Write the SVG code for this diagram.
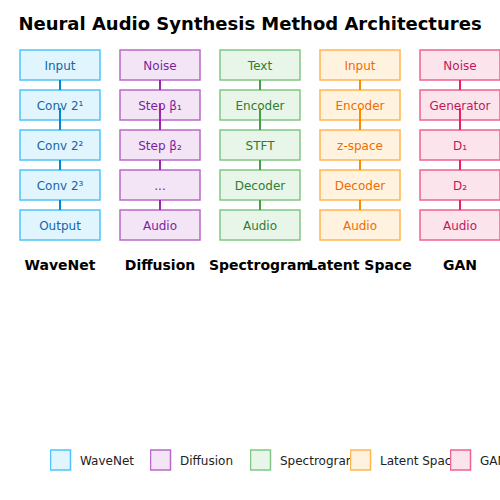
<svg xmlns="http://www.w3.org/2000/svg" width="500" height="500" viewBox="0 0 500 500">
<defs>
<style>
text{font-family:"DejaVu Sans","Liberation Sans",sans-serif}
.title{font-size:18px;font-weight:bold;fill:#000;text-anchor:middle}
.lbl{font-size:14px;font-weight:bold;fill:#000;text-anchor:middle}
.nt{font-size:12px;text-anchor:middle}
rect{stroke-width:1.5}
.wn rect{fill:#e1f5fe;stroke:#4fc3f7}.wn text{fill:#1565a8}
.df rect{fill:#f3e5f5;stroke:#ba68c8}.df text{fill:#7b1fa2}
.sp rect{fill:#e8f5e9;stroke:#81c784}.sp text{fill:#2e7d32}
.lt rect{fill:#fff3e0;stroke:#ffb74d}.lt text{fill:#ef6c00}
.gn rect{fill:#fce4ec;stroke:#f06292}.gn text{fill:#c2185b}
#legend text.lg{font-size:12px;fill:#222}
.c{stroke-width:2}
</style>
<clipPath id="cl0"><rect x="50" y="440" width="100" height="40"/></clipPath>
<clipPath id="cl1"><rect x="150" y="440" width="100" height="40"/></clipPath>
<clipPath id="cl2"><rect x="250" y="440" width="100" height="40"/></clipPath>
<clipPath id="cl3"><rect x="350" y="440" width="100" height="40"/></clipPath>
<clipPath id="cl4"><rect x="450" y="440" width="100" height="40"/></clipPath>
</defs>
<rect width="500" height="500" fill="#fff"/>
<text class="title" x="250" y="30">Neural Audio Synthesis Method Architectures</text>

<g id="wavenet" class="wn">
<g id="wn1"><rect x="20" y="50" width="80" height="30"/><text class="nt" x="60" y="70">Input</text></g>
<g id="wn2"><rect x="20" y="90" width="80" height="30"/><text class="nt" x="60" y="110">Conv 2¹</text></g>
<g id="wn3"><rect x="20" y="130" width="80" height="30"/><text class="nt" x="60" y="150">Conv 2²</text></g>
<g id="wn4"><rect x="20" y="170" width="80" height="30"/><text class="nt" x="60" y="190">Conv 2³</text></g>
<g id="wn5"><rect x="20" y="210" width="80" height="30"/><text class="nt" x="60" y="230">Output</text></g>
</g>
<g id="diffusion" class="df">
<g id="df1"><rect x="120" y="50" width="80" height="30"/><text class="nt" x="160" y="70">Noise</text></g>
<g id="df2"><rect x="120" y="90" width="80" height="30"/><text class="nt" x="160" y="110">Step β₁</text></g>
<g id="df3"><rect x="120" y="130" width="80" height="30"/><text class="nt" x="160" y="150">Step β₂</text></g>
<g id="df4"><rect x="120" y="170" width="80" height="30"/><text class="nt" x="160" y="190">...</text></g>
<g id="df5"><rect x="120" y="210" width="80" height="30"/><text class="nt" x="160" y="230">Audio</text></g>
</g>
<g id="spectrogram" class="sp">
<g id="sp1"><rect x="220" y="50" width="80" height="30"/><text class="nt" x="260" y="70">Text</text></g>
<g id="sp2"><rect x="220" y="90" width="80" height="30"/><text class="nt" x="260" y="110">Encoder</text></g>
<g id="sp3"><rect x="220" y="130" width="80" height="30"/><text class="nt" x="260" y="150">STFT</text></g>
<g id="sp4"><rect x="220" y="170" width="80" height="30"/><text class="nt" x="260" y="190">Decoder</text></g>
<g id="sp5"><rect x="220" y="210" width="80" height="30"/><text class="nt" x="260" y="230">Audio</text></g>
</g>
<g id="latent" class="lt">
<g id="lt1"><rect x="320" y="50" width="80" height="30"/><text class="nt" x="360" y="70">Input</text></g>
<g id="lt2"><rect x="320" y="90" width="80" height="30"/><text class="nt" x="360" y="110">Encoder</text></g>
<g id="lt3"><rect x="320" y="130" width="80" height="30"/><text class="nt" x="360" y="150">z-space</text></g>
<g id="lt4"><rect x="320" y="170" width="80" height="30"/><text class="nt" x="360" y="190">Decoder</text></g>
<g id="lt5"><rect x="320" y="210" width="80" height="30"/><text class="nt" x="360" y="230">Audio</text></g>
</g>
<g id="gan" class="gn">
<g id="gn1"><rect x="420" y="50" width="80" height="30"/><text class="nt" x="460" y="70">Noise</text></g>
<g id="gn2"><rect x="420" y="90" width="80" height="30"/><text class="nt" x="460" y="110">Generator</text></g>
<g id="gn3"><rect x="420" y="130" width="80" height="30"/><text class="nt" x="460" y="150">D₁</text></g>
<g id="gn4"><rect x="420" y="170" width="80" height="30"/><text class="nt" x="460" y="190">D₂</text></g>
<g id="gn5"><rect x="420" y="210" width="80" height="30"/><text class="nt" x="460" y="230">Audio</text></g>
</g>

<g id="connectors" class="c">
<path stroke="#0288d1" d="M60 80V90M60 108V130M60 160V170M60 200V210"/>
<path stroke="#9c27b0" d="M160 80V90M160 104V130M160 160V170M160 200V210"/>
<path stroke="#43a047" d="M260 80V90M260 108V130M260 160V170M260 200V210"/>
<path stroke="#fb8c00" d="M360 80V90M360 108V130M360 160V170M360 200V210"/>
<path stroke="#e91e63" d="M460 80V90M460 108V130M460 160V170M460 200V210"/>
</g>

<g id="labels">
<text class="lbl" x="60" y="270">WaveNet</text>
<text class="lbl" x="160" y="270">Diffusion</text>
<text class="lbl" x="260" y="270">Spectrogram</text>
<text class="lbl" x="360" y="270">Latent Space</text>
<text class="lbl" x="460" y="270">GAN</text>
</g>

<g id="legend">
<g clip-path="url(#cl0)" class="wn"><rect x="50.5" y="450" width="20" height="20"/><text class="lg" x="80" y="465">WaveNet</text></g>
<g clip-path="url(#cl1)" class="df"><rect x="150.5" y="450" width="20" height="20"/><text class="lg" x="180" y="465">Diffusion</text></g>
<g clip-path="url(#cl2)" class="sp"><rect x="250.5" y="450" width="20" height="20"/><text class="lg" x="280" y="465">Spectrogram</text></g>
<g clip-path="url(#cl3)" class="lt"><rect x="350.5" y="450" width="20" height="20"/><text class="lg" x="380" y="465">Latent Space</text></g>
<g clip-path="url(#cl4)" class="gn"><rect x="450.5" y="450" width="20" height="20"/><text class="lg" x="480" y="465">GAN</text></g>
</g>
</svg>
